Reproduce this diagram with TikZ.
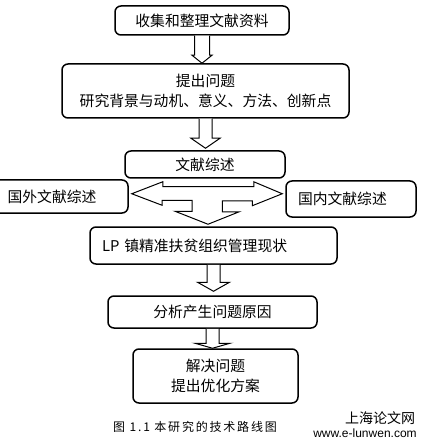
\documentclass[tikz,border=0pt]{standalone}
\usepackage{fontspec}
\setmainfont{Liberation Sans}
\newfontfamily\cjk{Noto Sans CJK SC}
\usetikzlibrary{calc}

\begin{document}
\begin{tikzpicture}[x=1pt,y=-1pt,
    box/.style={draw,line width=1.5pt,rounded corners=6pt,inner sep=0pt,
      font=\cjk\fontsize{14.8}{20}\selectfont,align=center},
    leftbox/.style={box,align=left,inner xsep=12pt},
    blockarrow/.style={draw,line width=1pt,fill=white,line join=miter}]
    \clip (0,0) rectangle (425,446);
    \fill[white] (0,0) rectangle (425,446);

    \node[box,minimum width=174pt,minimum height=29pt] (collect) at (202,20.5) {收集和整理文献资料};
    \node[box,minimum width=287pt,minimum height=54pt] (question) at (205.5,91) {提出问题\\研究背景与动机、意义、方法、创新点};
    \node[box,minimum width=160pt,minimum height=27pt] (review) at (205,164.5) {文献综述};
    \node[box,minimum width=152pt,minimum height=33pt] (abroad) at (52,196.5) {国外文献综述};
    \node[leftbox,text width=106pt,minimum height=36pt] (domestic) at (351,199) {国内文献综述};
    \node[leftbox,text width=223pt,minimum height=37pt] (status) at (213.5,245.5) {LP 镇精准扶贫组织管理现状};
    \node[box,minimum width=209pt,minimum height=32pt] (cause) at (212.5,312) {分析产生问题原因};
    \node[box,minimum width=165pt,minimum height=54pt] (solve) at (215.5,376) {解决问题\\提出优化方案};

    % tips of the block arrows
    \coordinate (t1) at (collect.south |- question.north);
    \coordinate (t2) at ($(question.south |- review.north)+(0,-2)$);
    \coordinate (t3) at ($(status.south |- cause.north)+(0,-4)$);
    \coordinate (t4) at (cause.south |- solve.north);
    \coordinate (hub) at ($(review.south)+(3,15)$);

    \draw[blockarrow] ($(collect.south)+(-7.5,0)$) -- ($(t1)+(-7.5,-8)$) -- ($(t1)+(-10,-8)$) -- (t1) -- ($(t1)+(10,-8)$) -- ($(t1)+(7.5,-8)$) -- ($(collect.south)+(7.5,0)$);
    \draw[blockarrow] ($(question.south)+(-6.5,0)$) -- ($(t2)+(-6.5,-10)$) -- ($(t2)+(-14.5,-10)$) -- (t2) -- ($(t2)+(14.5,-10)$) -- ($(t2)+(6.5,-10)$) -- ($(question.south)+(6.5,0)$);
    \draw[blockarrow] ($(status.south)+(-6.5,0)$) -- ($(t3)+(-6.5,-9)$) -- ($(t3)+(-16,-9)$) -- (t3) -- ($(t3)+(16,-9)$) -- ($(t3)+(6.5,-9)$) -- ($(status.south)+(6.5,0)$);
    \draw[blockarrow] ($(cause.south)+(-6.5,0)$) -- ($(t4)+(-6.5,-5)$) -- ($(t4)+(-17.5,-5)$) -- (t4) -- ($(t4)+(17.5,-5)$) -- ($(t4)+(6.5,-5)$) -- ($(cause.south)+(6.5,0)$);

    % review splits to both sides and down
    \draw[blockarrow] ($(abroad.east |- hub)+(3,0)$) -- ++(31,-12) -- ++(0,5) -- ++(91,0) -- ++(0,-5)
      -- ($(domestic.west |- hub)+(-3,0)$) -- ++(-30,12) -- ++(0,-5) -- ++(-30,0) -- ++(0,11) -- ++(17,0)
      -- ($(hub |- status.north)+(0,-2)$) -- ++(-33,-13) -- ++(17,0) -- ++(0,-11) -- ++(-30,0) -- ++(0,5) -- cycle;

    \node[font=\cjk\fontsize{12}{14}\selectfont\addfontfeature{LetterSpace=15}] (caption) at (195,427) {图 1.1 本研究的技术路线图};
    \node[font=\cjk\fontsize{14}{16}\selectfont,inner sep=0pt] (site) at (380,418) {上海论文网};
    \node[font=\fontsize{12}{14}\selectfont,inner sep=0pt] (url) at (365,433) {www.e-lunwen.com};
\end{tikzpicture}
\end{document}
